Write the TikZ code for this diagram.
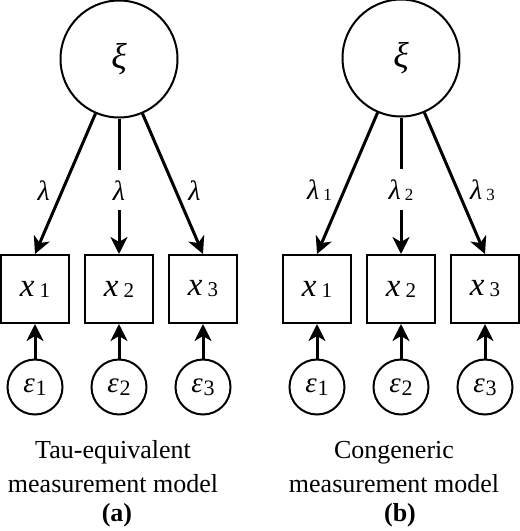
\documentclass[tikz,border=0pt]{standalone}
\usepackage{fontspec}
\setmainfont{Liberation Serif}
\usetikzlibrary{arrows.meta}
% letter with a small upright index: letter, index, gap, drop, index size
\newcommand{\vsub}[5]{\textit{#1}\kern#3\raisebox{-#4}{\fontsize{#5}{#5}\selectfont #2}}

\begin{document}
\begin{tikzpicture}[x=0.5pt, y=-0.5pt,
    latent/.style={draw, circle, line width=1pt, minimum size=58.5pt, inner sep=0pt, font=\fontsize{18}{18}\selectfont\itshape},
    observed/.style={draw, rectangle, line width=1pt, minimum size=34pt, inner sep=0pt, font=\fontsize{16.5}{16.5}\selectfont},
    errorvar/.style={draw, circle, line width=1pt, minimum size=27.5pt, inner sep=0pt, font=\fontsize{14.5}{14.5}\selectfont},
    loading/.style={line width=1.5pt, -{Stealth[length=8.5pt, width=8.5pt, inset=2.5pt]}},
    coef/.style={inner sep=0pt, font=\fontsize{14}{14}\selectfont},
    caption/.style={align=center, font=\fontsize{13}{17}\selectfont}]

    \useasboundingbox (0,0) rectangle (520,531);

    % 模型 (a)
    \node[latent] (xia) at (119,59) {ξ};
    \foreach \i/\x in {1/35, 2/119, 3/203} {
        \node[observed] (xa\i) at (\x,289) {\vsub{x}{\i}{2.5pt}{0.5pt}{10.5}};
        \node[errorvar] (ea\i) at (\x,387) {\vsub{ε}{\i}{0.5pt}{1.5pt}{11}};
        \draw[loading] (ea\i) -- (xa\i);
    }
    \draw[loading] (xia) -- (xa1.north) node[coef, pos=0.55, left=5.5pt] {\textit{λ}};
    \draw[loading] (xia) -- (xa2.north) node[coef, pos=0.53, fill=white, inner ysep=5pt] {\textit{λ}};
    \draw[loading] (xia) -- (xa3.north) node[coef, pos=0.55, right=5.5pt] {\textit{λ}};
    \node[caption] (capa) at (113,467) {Tau-equivalent\\measurement model};
    \node[caption] (laba) at (117,515) {\textbf{(a)}};

    % 模型 (b)
    \node[latent] (xib) at (401,58) {ξ};
    \foreach \i/\x in {1/317, 2/401, 3/485} {
        \node[observed] (xb\i) at (\x,289) {\vsub{x}{\i}{2.5pt}{0.5pt}{10.5}};
        \node[errorvar] (eb\i) at (\x,387) {\vsub{ε}{\i}{0.5pt}{1.5pt}{11}};
        \draw[loading] (eb\i) -- (xb\i);
    }
    \draw[loading] (xib) -- (xb1.north) node[coef, pos=0.55, left=5.5pt] {\vsub{λ}{1}{2pt}{0.5pt}{8.5}};
    \draw[loading] (xib) -- (xb2.north) node[coef, pos=0.53, fill=white, inner ysep=5pt] {\vsub{λ}{2}{2pt}{0.5pt}{8.5}};
    \draw[loading] (xib) -- (xb3.north) node[coef, pos=0.55, right=5.5pt] {\vsub{λ}{3}{2pt}{0.5pt}{8.5}};
    \node[caption] (capb) at (394,467) {Congeneric\\measurement model};
    \node[caption] (labb) at (400,515) {\textbf{(b)}};
\end{tikzpicture}
\end{document}
